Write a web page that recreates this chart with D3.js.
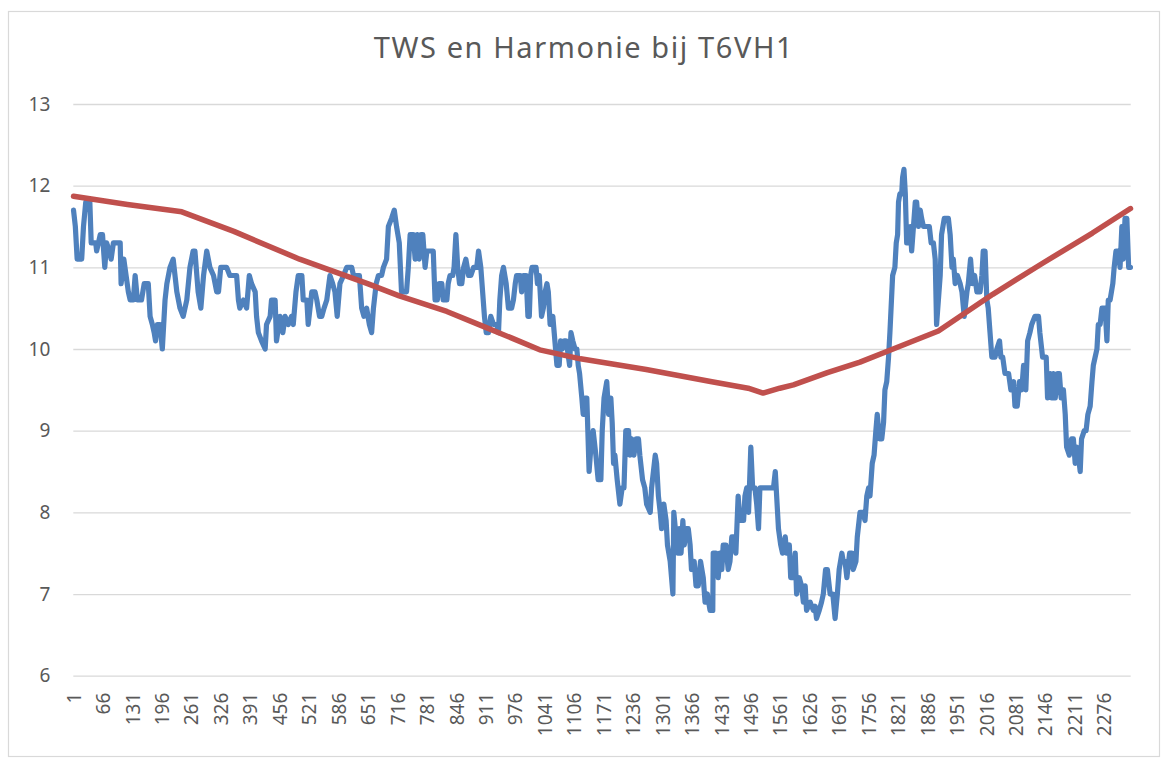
<!DOCTYPE html>
<html>
<head>
<meta charset="utf-8">
<script src="https://cdn.jsdelivr.net/npm/d3@7"></script>
<style>
  body { margin: 0; background: #fff; }
  text { font-family: "Noto Sans", "Open Sans", sans-serif; fill: #595959; }
</style>
</head>
<body>
<svg id="chart"></svg>
<script>
// number of samples on the category axis
const categoryCount = 2334;

const xTickLabels = [1, 66, 131, 196, 261, 326, 391, 456, 521, 586, 651, 716, 781, 846, 911, 976,
  1041, 1106, 1171, 1236, 1301, 1366, 1431, 1496, 1561, 1626, 1691, 1756, 1821, 1886, 1951,
  2016, 2081, 2146, 2211, 2276];
const yTickLabels = [6, 7, 8, 9, 10, 11, 12, 13];

// TWS (blue), [category, value]
const tws = [
  [1, 11.7], [5, 11.5], [9, 11.1], [19, 11.1], [23, 11.5], [28, 11.8], [37, 11.8], [40, 11.3],
  [50, 11.3], [52, 11.2], [56, 11.3], [60, 11.4], [65, 11.4], [70, 11.0], [74, 11.3], [80, 11.2],
  [84, 11.1], [89, 11.3], [104, 11.3], [106, 10.8], [112, 11.1], [122, 10.7], [126, 10.6],
  [133, 10.6], [137, 10.9], [142, 10.6], [151, 10.6], [157, 10.8], [166, 10.8], [170, 10.4],
  [175, 10.3], [179, 10.2], [182, 10.1], [186, 10.3], [192, 10.3], [197, 10.0], [203, 10.6],
  [207, 10.8], [214, 11.0], [221, 11.1], [229, 10.7], [236, 10.5], [243, 10.4], [251, 10.6],
  [258, 11.0], [265, 11.2], [269, 11.2], [276, 10.7], [282, 10.5], [288, 10.9], [295, 11.2],
  [302, 11.0], [310, 10.9], [317, 10.7], [321, 10.7], [326, 11.0], [339, 11.0], [346, 10.9],
  [361, 10.9], [365, 10.6], [368, 10.5], [376, 10.6], [383, 10.5], [389, 10.9], [394, 10.8],
  [402, 10.7], [405, 10.4], [409, 10.2], [416, 10.1], [424, 10.0], [427, 10.3], [435, 10.4],
  [438, 10.6], [446, 10.6], [449, 10.1], [457, 10.4], [463, 10.2], [468, 10.4], [475, 10.3],
  [482, 10.4], [486, 10.3], [492, 10.7], [497, 10.9], [505, 10.9], [508, 10.6], [516, 10.6],
  [519, 10.3], [527, 10.7], [534, 10.7], [538, 10.6], [544, 10.4], [549, 10.4], [554, 10.5],
  [560, 10.6], [567, 10.9], [573, 10.8], [578, 10.7], [583, 10.4], [589, 10.8], [597, 10.9],
  [604, 11.0], [615, 11.0], [619, 10.9], [632, 10.9], [637, 10.5], [642, 10.4], [648, 10.5],
  [654, 10.3], [659, 10.2], [663, 10.5], [669, 10.8], [674, 10.9], [681, 10.9], [685, 11.0],
  [692, 11.1], [696, 11.5], [703, 11.6], [709, 11.7], [714, 11.5], [720, 11.3], [725, 10.7],
  [736, 10.7], [740, 11.0], [744, 11.4], [751, 11.4], [755, 11.1], [760, 11.4], [764, 11.1],
  [768, 11.4], [772, 11.4], [777, 11.0], [781, 11.2], [795, 11.2], [799, 10.6], [804, 10.6],
  [808, 10.8], [814, 10.8], [817, 10.6], [825, 10.6], [828, 10.8], [832, 10.9], [838, 10.9],
  [841, 11.0], [845, 11.4], [849, 11.0], [853, 10.8], [858, 10.8], [862, 11.0], [867, 11.1],
  [873, 10.9], [878, 10.9], [884, 11.0], [891, 11.0], [895, 11.2], [900, 11.0], [904, 10.7],
  [908, 10.4], [912, 10.2], [917, 10.2], [922, 10.4], [928, 10.3], [935, 10.3], [939, 10.2],
  [942, 10.6], [946, 10.9], [950, 11.0], [956, 10.8], [961, 10.5], [968, 10.5], [972, 10.6],
  [976, 10.8], [979, 10.9], [987, 10.9], [990, 10.7], [994, 10.9], [1000, 10.9], [1004, 10.4],
  [1007, 10.4], [1010, 10.9], [1013, 11.0], [1022, 11.0], [1025, 10.8], [1029, 10.9],
  [1034, 10.4], [1038, 10.5], [1042, 10.7], [1046, 10.8], [1049, 10.7], [1053, 10.3],
  [1059, 10.4], [1062, 10.2], [1068, 9.8], [1073, 9.8], [1076, 10.1], [1080, 10.0], [1084, 10.1],
  [1088, 10.1], [1091, 10.0], [1096, 9.8], [1099, 10.2], [1103, 10.1], [1108, 10.0], [1112, 10.0],
  [1115, 9.8], [1118, 9.7], [1123, 9.4], [1126, 9.2], [1130, 9.4], [1134, 9.4], [1139, 8.5],
  [1143, 8.8], [1148, 9.0], [1154, 8.7], [1159, 8.4], [1165, 8.4], [1168, 9.0], [1172, 9.4],
  [1178, 9.6], [1182, 9.2], [1187, 9.4], [1190, 9.1], [1193, 8.6], [1196, 8.7], [1201, 8.4],
  [1207, 8.1], [1212, 8.3], [1216, 8.3], [1220, 9.0], [1226, 9.0], [1229, 8.7], [1233, 8.9],
  [1238, 8.7], [1243, 8.9], [1248, 8.9], [1251, 8.7], [1257, 8.4], [1262, 8.3], [1266, 8.1],
  [1274, 8.0], [1277, 8.3], [1281, 8.5], [1285, 8.7], [1288, 8.6], [1292, 8.2], [1296, 8.0],
  [1299, 7.8], [1304, 8.1], [1309, 7.9], [1312, 7.6], [1318, 7.4], [1324, 7.0], [1326, 8.0],
  [1331, 7.7], [1335, 7.5], [1338, 7.8], [1342, 7.5], [1346, 7.9], [1349, 7.6], [1354, 7.8],
  [1358, 7.8], [1362, 7.6], [1365, 7.3], [1371, 7.4], [1375, 7.1], [1380, 7.1], [1385, 7.4],
  [1391, 7.2], [1395, 6.9], [1400, 7.0], [1406, 6.8], [1412, 6.8], [1413, 7.5], [1419, 7.5],
  [1424, 7.2], [1428, 7.5], [1432, 7.3], [1435, 7.6], [1441, 7.6], [1446, 7.3], [1450, 7.4],
  [1454, 7.7], [1459, 7.7], [1463, 7.5], [1468, 8.2], [1472, 7.9], [1480, 7.9], [1483, 8.2],
  [1487, 8.3], [1491, 8.0], [1496, 8.8], [1500, 8.3], [1505, 8.3], [1509, 8.1], [1513, 7.8],
  [1516, 8.3], [1546, 8.3], [1550, 8.5], [1557, 7.8], [1562, 7.6], [1566, 7.5], [1572, 7.7],
  [1575, 7.5], [1581, 7.6], [1584, 7.2], [1590, 7.2], [1594, 7.5], [1597, 7.0], [1603, 7.2],
  [1608, 7.1], [1612, 6.9], [1616, 7.1], [1619, 6.8], [1627, 6.9], [1634, 6.8], [1638, 6.85],
  [1641, 6.7], [1647, 6.8], [1652, 6.9], [1656, 7.0], [1661, 7.3], [1665, 7.3], [1671, 7.0],
  [1677, 7.0], [1682, 6.7], [1687, 7.0], [1691, 7.3], [1697, 7.5], [1700, 7.4], [1704, 7.4],
  [1708, 7.2], [1714, 7.5], [1719, 7.5], [1722, 7.3], [1728, 7.4], [1731, 7.7], [1737, 8.0],
  [1744, 8.0], [1748, 7.9], [1752, 8.2], [1756, 8.3], [1759, 8.2], [1764, 8.6], [1768, 8.7],
  [1772, 9.0], [1775, 9.2], [1780, 8.9], [1785, 8.9], [1789, 9.1], [1792, 9.5], [1796, 9.6],
  [1800, 9.9], [1803, 10.2], [1809, 10.9], [1814, 11.0], [1817, 11.3], [1820, 11.4],
  [1822, 11.8], [1825, 11.9], [1829, 11.9], [1831, 12.1], [1834, 12.2], [1837, 11.9],
  [1839, 11.5], [1840, 11.3], [1844, 11.3], [1848, 11.5], [1851, 11.2], [1855, 11.5],
  [1859, 11.8], [1862, 11.8], [1866, 11.5], [1870, 11.7], [1873, 11.6], [1877, 11.5],
  [1890, 11.5], [1894, 11.3], [1899, 11.3], [1903, 11.1], [1906, 10.3], [1910, 10.6],
  [1914, 10.9], [1917, 11.4], [1923, 11.6], [1932, 11.6], [1936, 11.4], [1940, 11.0],
  [1943, 11.1], [1947, 10.8], [1952, 10.9], [1958, 10.8], [1962, 10.7], [1967, 10.4],
  [1973, 10.7], [1976, 10.8], [1981, 11.1], [1985, 10.8], [1990, 10.9], [1995, 10.7],
  [2002, 10.7], [2006, 10.9], [2009, 11.2], [2013, 11.2], [2017, 10.6], [2020, 10.5],
  [2024, 10.2], [2028, 9.9], [2035, 9.9], [2039, 10.0], [2045, 10.1], [2048, 9.9], [2052, 9.9],
  [2057, 9.7], [2065, 9.7], [2070, 9.5], [2076, 9.6], [2079, 9.3], [2084, 9.3], [2089, 9.6],
  [2094, 9.5], [2098, 9.8], [2103, 9.5], [2107, 10.1], [2112, 10.2], [2116, 10.3], [2123, 10.4],
  [2131, 10.4], [2134, 10.2], [2140, 9.9], [2148, 9.9], [2151, 9.4], [2157, 9.7], [2160, 9.4],
  [2164, 9.7], [2168, 9.4], [2173, 9.7], [2177, 9.7], [2181, 9.4], [2186, 9.5], [2190, 9.2],
  [2193, 8.8], [2199, 8.7], [2204, 8.9], [2208, 8.9], [2212, 8.6], [2215, 8.8], [2219, 8.7],
  [2223, 8.5], [2226, 8.9], [2232, 9.0], [2236, 9.0], [2240, 9.2], [2245, 9.3], [2249, 9.6],
  [2252, 9.8], [2256, 9.9], [2260, 10.0], [2263, 10.3], [2267, 10.3], [2271, 10.5], [2278, 10.5],
  [2282, 10.1], [2285, 10.6], [2289, 10.6], [2295, 10.8], [2298, 11.0], [2302, 11.2],
  [2307, 11.2], [2311, 11.0], [2315, 11.5], [2318, 11.1], [2322, 11.6], [2326, 11.6],
  [2330, 11.0], [2334, 11.0]
];

// Harmonie (red), smooth curve
const harmonie = [
  [1, 11.87], [120, 11.77], [240, 11.68], [355, 11.44], [500, 11.1], [575, 10.95], [650, 10.8],
  [720, 10.65], [825, 10.46], [900, 10.29], [970, 10.13], [1030, 9.99], [1120, 9.88],
  [1265, 9.75], [1410, 9.6], [1490, 9.52], [1523, 9.46], [1560, 9.52], [1590, 9.56],
  [1665, 9.71], [1737, 9.84], [1810, 10.0], [1910, 10.22], [2030, 10.67], [2140, 11.05],
  [2250, 11.42], [2334, 11.72]
];

const width = 1162;
const height = 759;
const plot = { left: 73.3, right: 1130.7, top: 104, bottom: 675.7 };

const svg = d3.select("#chart").attr("width", width).attr("height", height);

svg.append("rect")
  .attr("x", 8.5).attr("y", 11.5)
  .attr("width", 1151).attr("height", 745)
  .attr("fill", "#fff")
  .attr("stroke", "#d9d9d9")
  .attr("stroke-width", 1.2);

const x = d3.scaleLinear()
  .domain([0.5, categoryCount + 0.5])
  .range([plot.left, plot.right]);

const y = d3.scaleLinear()
  .domain([6, 13])
  .range([plot.bottom, plot.top]);

// gridlines + y labels
const yAxis = d3.axisLeft(y)
  .tickValues(yTickLabels)
  .tickFormat(d3.format("d"))
  .tickSize(-(plot.right - plot.left))
  .tickPadding(23);

svg.append("g")
  .attr("transform", `translate(${plot.left}, 0)`)
  .call(yAxis)
  .call((g) => g.select(".domain").remove())
  .call((g) => g.selectAll(".tick line").attr("stroke", "#d9d9d9").attr("stroke-width", 1.3))
  .call((g) => g.selectAll(".tick text")
    .style("font-family", '"Noto Sans", sans-serif')
    .style("font-size", "19px")
    .attr("fill", "#595959"));

// x labels, rotated
const xAxis = d3.axisBottom(x)
  .tickValues(xTickLabels)
  .tickFormat((d) => String(d))
  .tickSize(0)
  .tickPadding(0);

svg.append("g")
  .attr("transform", `translate(0, ${plot.bottom})`)
  .call(xAxis)
  .call((g) => g.select(".domain").remove())
  .call((g) => g.selectAll(".tick text")
    .style("font-family", '"Noto Sans", sans-serif')
    .style("font-size", "19px")
    .attr("fill", "#595959")
    .attr("text-anchor", "end")
    .attr("transform", "translate(0, 17) rotate(-90)")
    .attr("x", 0)
    .attr("y", 0)
    .attr("dy", "0.35em"));

const line = d3.line()
  .x((d) => x(d[0]))
  .y((d) => y(d[1]));

svg.append("path")
  .datum(tws)
  .attr("d", line)
  .attr("fill", "none")
  .attr("stroke", "#4f81bd")
  .attr("stroke-width", 5.2)
  .attr("stroke-linejoin", "round")
  .attr("stroke-linecap", "round");

svg.append("path")
  .datum(harmonie)
  .attr("d", line)
  .attr("fill", "none")
  .attr("stroke", "#c0504d")
  .attr("stroke-width", 5.5)
  .attr("stroke-linejoin", "round")
  .attr("stroke-linecap", "round");

svg.append("text")
  .attr("x", 584)
  .attr("y", 58)
  .attr("text-anchor", "middle")
  .style("font-size", "29px")
  .style("letter-spacing", "1.6px")
  .text("TWS en Harmonie bij T6VH1");
</script>
</body>
</html>
